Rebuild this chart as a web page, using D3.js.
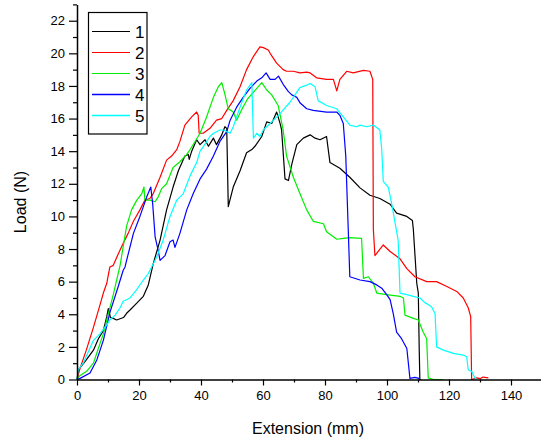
<!DOCTYPE html>
<html>
<head>
<meta charset="utf-8">
<script src="https://cdn.jsdelivr.net/npm/d3@7"></script>
<style>
  html, body { margin: 0; padding: 0; background: #fff; }
  svg { display: block; }
  text { font-family: "Liberation Sans", Arial, sans-serif; fill: #000; }
</style>
</head>
<body>
<svg id="chart" width="541" height="442"></svg>
<script>
// Load–extension curves for five specimens: [extension (mm), load (N)]
const curve1 = [[0,0],[0.5,0.6],[3,1.2],[5.3,1.8],[6.9,2.5],[8.5,3.0],[9.6,3.85],[10.1,4.35],[10.8,3.8],[11.7,3.75],[12.8,3.65],[15,3.8],[16,4.06],[17.1,4.26],[19.2,4.67],[21.4,5.1],[23,5.8],[24.6,7.1],[26.8,8.55],[28.9,10.4],[31,11.8],[32.7,12.8],[34.8,13.7],[35.9,13.8],[36.2,13.5],[37,14.0],[38.6,14.7],[39.7,14.4],[41.3,14.7],[42.4,14.3],[44,14.8],[45,14.4],[46.7,15.0],[47.7,15.5],[48.3,15.4],[48.8,10.6],[50.4,11.8],[52.6,12.8],[54.7,13.9],[56.4,14.1],[57.4,14.3],[59.6,14.9],[61.2,15.8],[62.8,15.7],[64.4,16.4],[65.5,15.7],[66,15.3],[67.1,12.3],[68.2,12.2],[69.3,13.2],[70.9,14.4],[73,14.8],[75.2,15.0],[76.8,14.8],[78.4,14.7],[80.5,14.9],[81.6,13.3],[84.8,12.95],[88,12.4],[91.3,11.75],[94.5,11.3],[97.7,11.1],[101,10.75],[103.1,10.2],[106.4,10.0],[108.2,9.75],[108.5,9.2],[109.6,5.9],[110.1,5.3],[110.4,1.8],[110.6,0],[111,0]];

const curve2 = [[0,0],[1,0.7],[3,1.8],[5.3,3.2],[7,4.3],[8.5,5.3],[9.6,5.9],[10.6,6.9],[11.7,7.0],[13.3,7.7],[14.9,8.35],[16.5,8.96],[18.2,9.7],[20.3,10.4],[21.9,11.0],[23.5,11.1],[24.6,11.4],[26.8,12.4],[28.9,13.45],[30.5,13.7],[32.2,14.1],[33.2,14.6],[34.8,15.6],[37,16.1],[38.6,16.4],[39.1,16.2],[39.4,15.1],[40.7,15.1],[42.9,15.4],[45,15.9],[46.7,16.0],[48.3,16.5],[50.4,17.1],[52.6,17.95],[54.7,19.0],[56.9,19.8],[59,20.4],[60.1,20.35],[61.7,20.2],[62.3,20.0],[64.4,19.4],[66.5,19.0],[67.6,18.9],[69.8,18.9],[71.9,18.8],[74.1,18.85],[75.2,18.8],[77.3,18.5],[80.5,18.4],[82.7,18.4],[83.8,17.7],[84.8,18.4],[87,18.9],[89.1,18.8],[92.4,18.95],[94.5,18.9],[95.4,18.4],[95.6,9.2],[96.1,7.6],[98.8,8.25],[101,7.85],[104.2,7.4],[106.4,6.8],[109,6.3],[112.8,6.0],[116,6.0],[119.3,5.7],[122.5,5.4],[124.6,5.0],[126.2,4.4],[127,3.85],[127.3,0],[129,0.1],[130,0.05],[131,0.15],[132.7,0.1]];

const curve3 = [[0,0],[1,0.25],[3.1,0.5],[5.3,1.0],[7.4,2.2],[8.5,2.8],[9.6,3.65],[11.7,5.2],[13.9,7.0],[16,9.4],[17.6,10.4],[19.3,11.0],[20.9,11.4],[21.6,11.8],[21.9,11.0],[23.5,11.0],[25.2,10.9],[26.2,11.2],[27.3,11.7],[28.9,12.0],[31,13.0],[33.2,13.35],[35.4,13.8],[36.5,14.1],[39.7,15.1],[41.8,16.1],[44,17.3],[45.6,17.95],[46.7,18.2],[47.7,17.5],[48.8,16.6],[50.4,16.4],[51.5,15.9],[53,16.5],[55,17.2],[58,17.85],[59.6,18.2],[61.2,17.75],[62.8,17.45],[64.9,16.8],[66.5,15.3],[67.6,13.7],[69.8,12.4],[71.9,11.4],[74.1,10.4],[76.2,9.7],[79.5,9.55],[80.5,9.06],[83.8,8.6],[85.9,8.65],[88,8.7],[91.8,8.65],[92.4,6.2],[94,6.3],[95.6,5.9],[96.7,5.3],[99.9,5.2],[104.2,5.1],[105.3,5.0],[105.8,3.95],[108.5,3.75],[110.1,3.65],[111.7,2.9],[112.8,2.5],[113.3,0.1],[115,0],[118,0]];

const curve4 = [[0,0],[1,0.07],[4.2,0.4],[6.4,1.2],[8.5,2.4],[10.6,4.1],[13.3,5.7],[14.9,6.7],[15.5,6.9],[16,7.3],[18.2,8.96],[20.3,10.0],[22.5,11.2],[23.8,11.8],[24.4,10.8],[25.2,8.75],[26.2,7.9],[26.8,7.3],[28.4,7.6],[30,8.45],[31,8.55],[31.6,8.1],[33.2,8.96],[35.4,10.4],[37.5,11.4],[39.7,12.3],[41.8,12.9],[44,13.7],[46.1,14.6],[48.3,15.2],[49.4,15.9],[51.5,16.7],[53.6,17.3],[55.8,17.85],[58,18.3],[59.6,18.5],[61,18.8],[62.3,18.4],[63.9,18.4],[65,18.6],[66.5,18.1],[68.2,17.65],[69.3,17.45],[70.9,17.3],[72,16.95],[74.1,16.6],[76.2,16.5],[80.5,16.4],[83.8,16.4],[84.8,16.2],[85.9,15.7],[86.7,13.7],[87.5,9.2],[88,6.3],[91.3,6.1],[94.5,6.0],[96.7,5.8],[98.3,5.6],[99.9,5.2],[101,4.9],[102,4.05],[103.1,2.9],[104.7,2.5],[106.4,1.9],[107.4,0.07],[109,0.13],[110.6,0.05]];

const curve5 = [[0,0],[0.4,0.6],[2,1.0],[5.3,2.4],[7.4,2.8],[9.6,3.35],[10.6,3.65],[12.3,3.95],[13.9,4.4],[14.9,4.8],[17.1,5.0],[19.2,5.5],[21.4,6.1],[23,6.5],[25.7,7.5],[27.8,8.55],[30,10.0],[32.2,11.0],[34.3,11.4],[36.5,12.5],[38.6,13.3],[39.7,14.0],[40.5,14.2],[42.9,14.9],[44,15.1],[46.1,15.3],[47.2,15.3],[49.4,15.1],[50.4,15.5],[52.6,16.7],[54.7,17.75],[56.4,18.2],[56.9,14.8],[58,15.1],[59,14.9],[60.1,15.3],[62.3,15.7],[65.5,16.3],[68.7,17.0],[71.9,17.9],[74.1,18.05],[75.2,18.15],[76.8,17.95],[77.8,17.1],[80.5,16.8],[83.8,16.6],[85.9,16.1],[88,15.6],[90.2,15.5],[91.3,15.6],[93.4,15.5],[95.6,15.6],[97.7,15.3],[98.3,14.1],[98.8,12.15],[100.4,11.8],[101.5,10.8],[102.6,9.6],[103.6,8.55],[104.2,5.3],[106.4,5.2],[108.5,5.1],[110.6,5.0],[112.3,4.7],[113.3,4.6],[114.4,4.45],[115.5,4.05],[116,2.0],[118.2,1.8],[121.4,1.6],[124.6,1.5],[125.7,1.4],[126.2,0.6],[127.3,0.5],[128.4,0.07],[129,0]];

const seriesNames = ["1", "2", "3", "4", "5"];
const seriesColors = ["#000000", "#ff0000", "#00ee00", "#0000ff", "#00ffff"];
const xMajorTicks = [0, 20, 40, 60, 80, 100, 120, 140];
const xMinorTicks = [10, 30, 50, 70, 90, 110, 130, 150];
const yMajorTicks = [0, 2, 4, 6, 8, 10, 12, 14, 16, 18, 20, 22];
const yMinorTicks = [1, 3, 5, 7, 9, 11, 13, 15, 17, 19, 21, 23];

const curves = [curve1, curve2, curve3, curve4, curve5];

const svg = d3.select("#chart");
const x = d3.scaleLinear().domain([0, 150]).range([77, 542]);
const y = d3.scaleLinear().domain([0, 23]).range([379.5, 4.4]);

// curves
const line = d3.line().x(d => x(d[0])).y(d => y(d[1]));
const plot = svg.append("g");
curves.forEach((c, i) => {
  plot.append("path")
    .datum(c)
    .attr("d", line)
    .attr("fill", "none")
    .attr("stroke", seriesColors[i])
    .attr("stroke-width", 1.2)
    .attr("stroke-linejoin", "round");
});

// axes
function styleAxis(g) {
  g.selectAll("path.domain").attr("stroke", "#000").attr("stroke-width", 1.5);
  g.selectAll(".tick line").attr("stroke", "#000").attr("stroke-width", 1.2);
  g.selectAll(".tick text")
    .attr("font-family", "'Liberation Sans', Arial, sans-serif")
    .attr("font-size", 13).attr("fill", "#111");
}

const xAxisG = svg.append("g").attr("transform", `translate(0,${y(0)})`);
xAxisG.call(d3.axisBottom(x).tickValues(xMajorTicks).tickSize(6).tickPadding(5).tickSizeOuter(0));
styleAxis(xAxisG);
const xMinorG = svg.append("g").attr("transform", `translate(0,${y(0)})`);
xMinorG.call(d3.axisBottom(x).tickValues(xMinorTicks).tickSize(3).tickFormat("").tickSizeOuter(0));
xMinorG.select("path.domain").remove();
styleAxis(xMinorG);

const yAxisG = svg.append("g").attr("transform", `translate(${x(0)},0)`);
yAxisG.call(d3.axisLeft(y).tickValues(yMajorTicks).tickSize(8).tickPadding(4).tickSizeOuter(0));
styleAxis(yAxisG);
const yMinorG = svg.append("g").attr("transform", `translate(${x(0)},0)`);
yMinorG.call(d3.axisLeft(y).tickValues(yMinorTicks).tickSize(4).tickFormat("").tickSizeOuter(0));
yMinorG.select("path.domain").remove();
styleAxis(yMinorG);

// axis titles
svg.append("text")
  .attr("x", 308).attr("y", 434)
  .attr("text-anchor", "middle")
  .attr("font-size", 16)
  .text("Extension (mm)");
svg.append("text")
  .attr("transform", "translate(26,202) rotate(-90)")
  .attr("text-anchor", "middle")
  .attr("font-size", 16)
  .text("Load (N)");

// legend
const legend = svg.append("g");
legend.append("rect")
  .attr("x", 88.5).attr("y", 12.5).attr("width", 58.5).attr("height", 121.5)
  .attr("fill", "#fff").attr("stroke", "#000").attr("stroke-width", 1.2);
seriesNames.forEach((name, i) => {
  const ly = 31.5 + i * 21;
  legend.append("line")
    .attr("x1", 92).attr("x2", 130).attr("y1", ly).attr("y2", ly)
    .attr("stroke", seriesColors[i]).attr("stroke-width", i >= 3 ? 1.6 : 1.2);
  legend.append("text")
    .attr("x", 135).attr("y", ly).attr("dy", "0.36em")
    .attr("font-size", 17)
    .text(name);
});
</script>
</body>
</html>
